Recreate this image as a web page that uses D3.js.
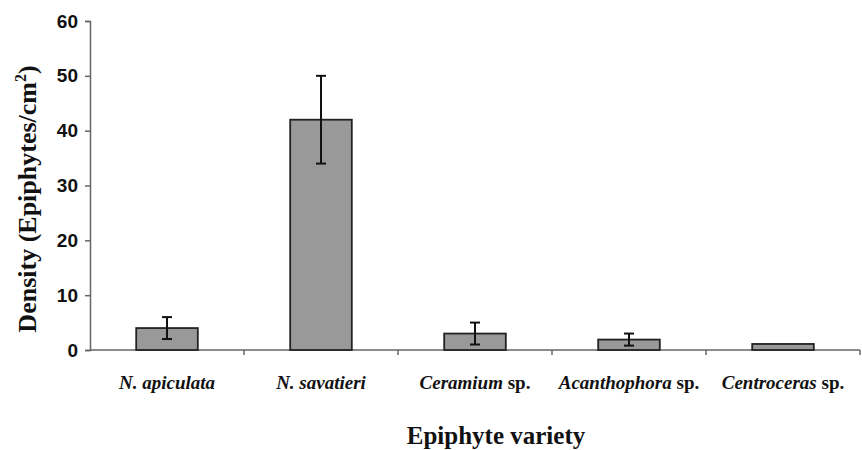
<!DOCTYPE html>
<html>
<head>
<meta charset="utf-8">
<script src="https://cdn.jsdelivr.net/npm/d3@7"></script>
<style>
  body { margin: 0; background: #fff; }
  .tick text { font-family: "Liberation Sans", Arial, sans-serif; font-weight: bold; }
</style>
</head>
<body>
<div id="chart"></div>
<script>
var genus = ["N. apiculata", "N. savatieri", "Ceramium", "Acanthophora", "Centroceras"];
var suffix = ["", "", " sp.", " sp.", " sp."];
var density = [4, 42, 3, 1.9, 1.1];
var errors = [2, 8, 2, 1.1, 0];
var yTicks = [0, 10, 20, 30, 40, 50, 60];

var width = 862, height = 450;
var plotLeft = 90, plotRight = 860, plotTop = 21, plotBottom = 350;

var svg = d3.select("#chart").append("svg")
  .attr("width", width)
  .attr("height", height);

var x = d3.scaleBand()
  .domain(d3.range(genus.length))
  .range([plotLeft, plotRight])
  .paddingInner(0)
  .paddingOuter(0);

var y = d3.scaleLinear()
  .domain([0, 60])
  .range([plotBottom, plotTop]);

var axisColor = "#666";

// y axis
var yAxis = svg.append("g")
  .attr("transform", "translate(" + plotLeft + ",0)")
  .call(d3.axisLeft(y).tickValues(yTicks).tickSize(5).tickPadding(7));
yAxis.select(".domain").attr("stroke", axisColor).attr("stroke-width", 1.5);
yAxis.selectAll(".tick line").attr("stroke", axisColor).attr("stroke-width", 1.5);
yAxis.selectAll(".tick text").attr("font-size", 19).attr("fill", "#111");

// x axis line and separator ticks
svg.append("line")
  .attr("x1", plotLeft).attr("x2", plotRight)
  .attr("y1", y(0)).attr("y2", y(0))
  .attr("stroke", axisColor).attr("stroke-width", 1.5);

svg.selectAll(".xsep")
  .data(d3.range(1, genus.length + 1))
  .enter().append("line")
  .attr("class", "xsep")
  .attr("x1", function(d) { return x.step() * d + plotLeft; })
  .attr("x2", function(d) { return x.step() * d + plotLeft; })
  .attr("y1", y(0))
  .attr("y2", y(0) + 5)
  .attr("stroke", axisColor)
  .attr("stroke-width", 1.5);

// bars
var barW = x.bandwidth() * 0.4;
svg.selectAll(".bar")
  .data(density)
  .enter().append("rect")
  .attr("class", "bar")
  .attr("x", function(d, i) { return x(i) + x.bandwidth() / 2 - barW / 2; })
  .attr("y", function(d) { return y(d); })
  .attr("width", barW)
  .attr("height", function(d) { return y(0) - y(d); })
  .attr("fill", "#999999")
  .attr("stroke", "#222")
  .attr("stroke-width", 1.8);

// error bars
var err = svg.selectAll(".err")
  .data(density.map(function(d, i) { return { v: d, e: errors[i], i: i }; })
    .filter(function(d) { return d.e > 0; }))
  .enter().append("g")
  .attr("class", "err");

err.append("line")
  .attr("x1", function(d) { return x(d.i) + x.bandwidth() / 2; })
  .attr("x2", function(d) { return x(d.i) + x.bandwidth() / 2; })
  .attr("y1", function(d) { return y(d.v + d.e); })
  .attr("y2", function(d) { return y(d.v - d.e); })
  .attr("stroke", "#111").attr("stroke-width", 2);

[1, -1].forEach(function(s) {
  err.append("line")
    .attr("x1", function(d) { return x(d.i) + x.bandwidth() / 2 - 5; })
    .attr("x2", function(d) { return x(d.i) + x.bandwidth() / 2 + 5; })
    .attr("y1", function(d) { return y(d.v + s * d.e); })
    .attr("y2", function(d) { return y(d.v + s * d.e); })
    .attr("stroke", "#111").attr("stroke-width", 2);
});

// category labels
var lab = svg.selectAll(".xlab")
  .data(genus)
  .enter().append("text")
  .attr("class", "xlab")
  .attr("x", function(d, i) { return x(i) + x.bandwidth() / 2; })
  .attr("y", 389)
  .attr("text-anchor", "middle")
  .attr("font-family", "'Liberation Serif', 'Times New Roman', serif")
  .attr("font-weight", "bold")
  .attr("font-size", 19)
  .attr("fill", "#111");

lab.append("tspan").attr("font-style", "italic").text(function(d) { return d; });
lab.append("tspan").text(function(d, i) { return suffix[i]; });

// axis titles
svg.append("text")
  .attr("x", 496)
  .attr("y", 444)
  .attr("text-anchor", "middle")
  .attr("font-family", "'Liberation Serif', 'Times New Roman', serif")
  .attr("font-weight", "bold")
  .attr("font-size", 25)
  .attr("fill", "#111")
  .text("Epiphyte variety");

var yt = svg.append("text")
  .attr("transform", "translate(36,199) rotate(-90)")
  .attr("text-anchor", "middle")
  .attr("font-family", "'Liberation Serif', 'Times New Roman', serif")
  .attr("font-weight", "bold")
  .attr("font-size", 26)
  .attr("fill", "#111");
yt.append("tspan").text("Density (Epiphytes/cm");
yt.append("tspan").attr("font-size", 16).attr("dy", -10).text("2");
yt.append("tspan").attr("dy", 10).text(")");
</script>
</body>
</html>
